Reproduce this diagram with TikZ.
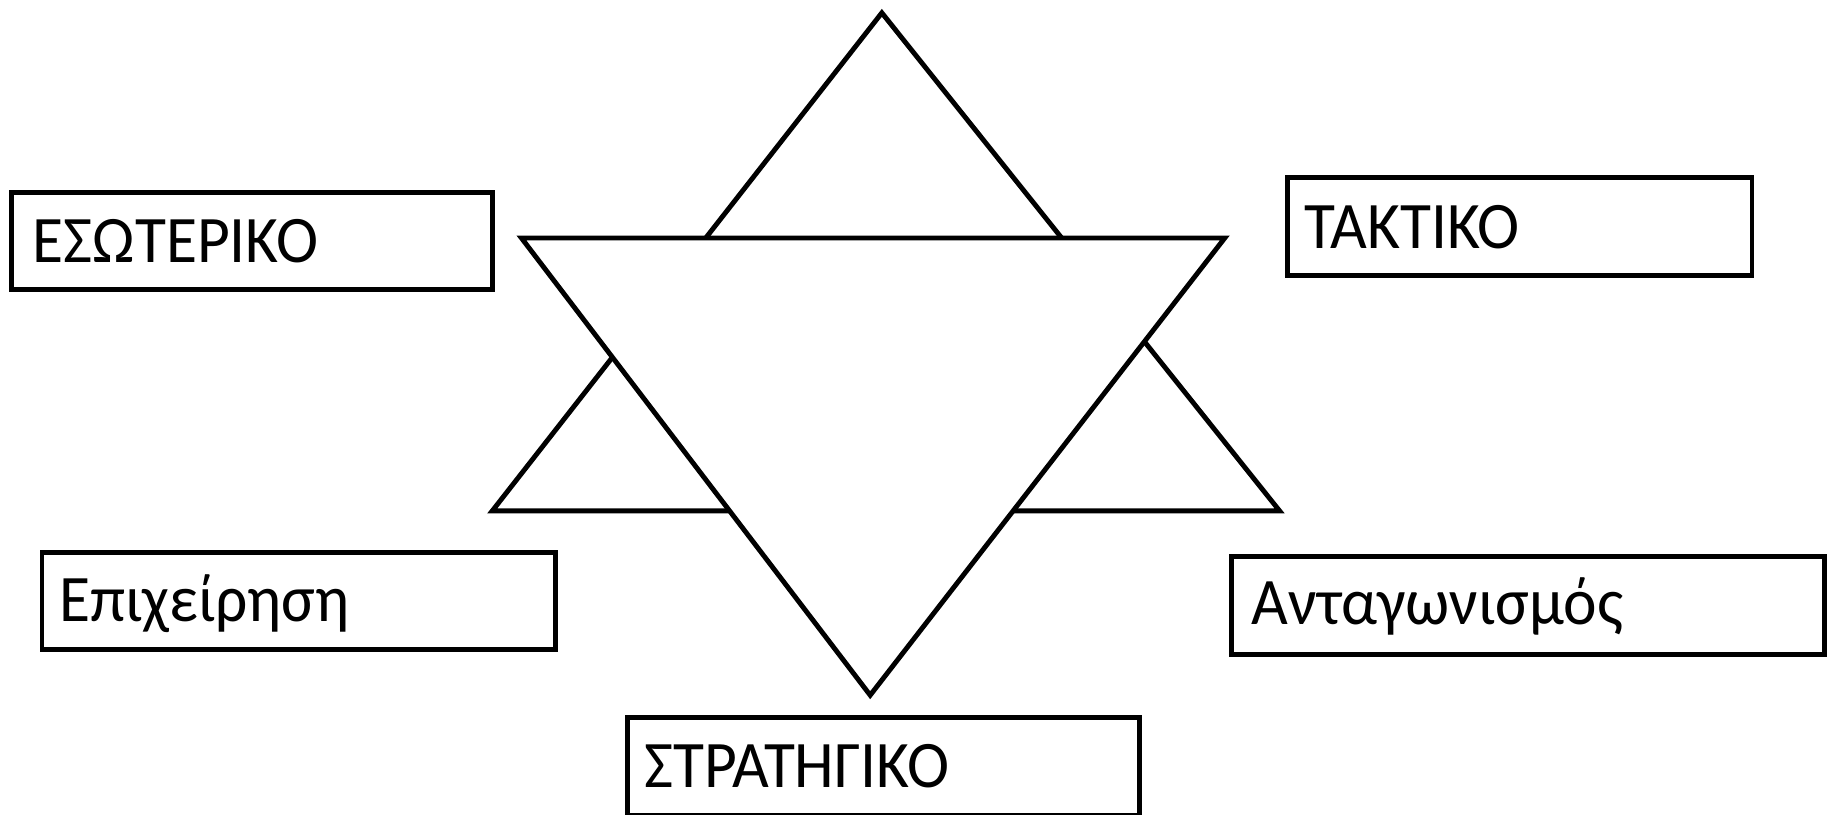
\documentclass[tikz,border=0pt]{standalone}
\usepackage{fontspec}
\setmainfont{Carlito}
\newcommand{\sq}[1]{\scalebox{0.955}[1]{#1}}
\begin{document}
\begin{tikzpicture}[x=1pt,y=-1pt,
  tri/.style={draw=black,fill=white,line width=4.2pt,line join=miter},
  box/.style={draw=black,line width=4.2pt,inner sep=0pt},
  lbl/.style={anchor=base west,inner sep=0pt,font=\fontsize{57}{60}\selectfont}]
\useasboundingbox (0,0) rectangle (1568,698);
% star
\coordinate (ua) at (756,11);
\coordinate (ul) at (422,438);
\coordinate (ur) at (1097,438);
\coordinate (dl) at (447,204);
\coordinate (dr) at (1050,204);
\coordinate (db) at (746,596);
\draw[tri] (ua) -- (ur) -- (ul) -- cycle;
\draw[tri] (dl) -- (dr) -- (db) -- cycle;
% boxes
\node[box,minimum width=412pt,minimum height=83pt] (b1) at (216,206.5) {};
\node[box,minimum width=398pt,minimum height=84pt] (b2) at (1303,194) {};
\node[box,minimum width=440pt,minimum height=83pt] (b3) at (256,515.5) {};
\node[box,minimum width=508pt,minimum height=84pt] (b4) at (1310,519) {};
\node[box,minimum width=439pt,minimum height=84pt] (b5) at (757.5,657) {};
\node[lbl] (t1) at (28,225) {\sq{ΕΣΩΤΕΡΙΚΟ}};
\node[lbl] (t2) at (1118,213) {\sq{ΤΑΚΤΙΚΟ}};
\node[lbl] (t3) at (51,533) {\sq{Επιχείρηση}};
\node[lbl] (t4) at (1073,535) {\sq{Ανταγωνισμός}};
\node[lbl] (t5) at (552,675) {\sq{ΣΤΡΑΤΗΓΙΚΟ}};
\end{tikzpicture}
\end{document}
